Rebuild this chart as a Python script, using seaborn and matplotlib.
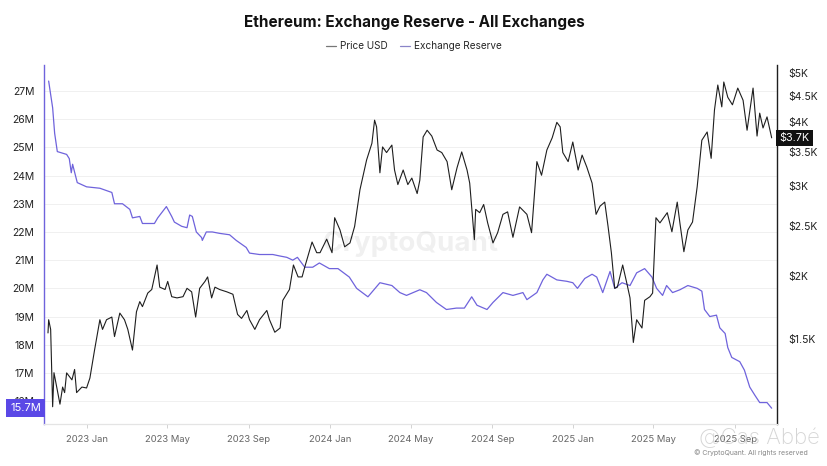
import pandas as pd
import numpy as np
import matplotlib
matplotlib.use("Agg")
import matplotlib.pyplot as plt
import matplotlib.dates as mdates
import matplotlib.ticker as mticker
import seaborn as sns

sns.set_theme(style="white")
plt.rcParams["font.family"] = ["Inter", "DejaVu Sans"]

# Exchange reserve (ETH, millions)
reserve_dates = [
    "2022-11-04", "2022-11-10", "2022-11-13", "2022-11-17", "2022-12-01", "2022-12-05",
    "2022-12-08", "2022-12-10", "2022-12-17", "2022-12-31", "2023-01-20", "2023-02-07",
    "2023-02-11", "2023-02-23", "2023-03-06", "2023-03-10", "2023-03-21", "2023-03-25",
    "2023-04-12", "2023-04-17", "2023-04-30", "2023-05-08", "2023-05-12", "2023-05-23",
    "2023-05-31", "2023-06-04", "2023-06-08", "2023-06-14", "2023-06-22", "2023-06-23",
    "2023-06-29", "2023-07-08", "2023-07-19", "2023-08-03", "2023-08-13", "2023-08-28",
    "2023-09-02", "2023-09-17", "2023-10-07", "2023-10-17", "2023-10-28", "2023-11-06",
    "2023-11-13", "2023-11-24", "2023-12-06", "2023-12-16", "2023-12-31", "2024-01-13",
    "2024-01-30", "2024-02-10", "2024-02-27", "2024-03-16", "2024-04-03", "2024-04-15",
    "2024-04-25", "2024-05-15", "2024-05-25", "2024-06-09", "2024-06-24", "2024-07-09",
    "2024-07-21", "2024-08-01", "2024-08-09", "2024-08-24", "2024-09-02", "2024-09-17",
    "2024-10-02", "2024-10-17", "2024-10-23", "2024-11-07", "2024-11-16", "2024-11-22",
    "2024-12-07", "2024-12-22", "2024-12-31", "2025-01-07", "2025-01-18", "2025-01-29",
    "2025-02-05", "2025-02-14", "2025-02-25", "2025-03-04", "2025-03-15", "2025-03-27",
    "2025-04-06", "2025-04-18", "2025-04-29", "2025-05-06", "2025-05-15", "2025-05-21",
    "2025-05-30", "2025-06-10", "2025-06-22", "2025-07-06", "2025-07-13", "2025-07-17",
    "2025-07-25", "2025-08-04", "2025-08-09", "2025-08-17", "2025-08-21", "2025-08-27",
    "2025-09-08", "2025-09-15", "2025-09-23", "2025-10-01", "2025-10-08", "2025-10-19",
    "2025-10-26",
]
reserve_m = [
    27.35, 26.4, 25.5, 24.85, 24.75, 24.6,
    24.1, 24.4, 23.75, 23.6, 23.55, 23.4,
    23.0, 23.0, 22.8, 22.5, 22.55, 22.3,
    22.3, 22.5, 22.9, 22.55, 22.35, 22.2,
    22.15, 22.6, 22.55, 22.0, 21.8, 21.7,
    22.0, 22.0, 21.95, 21.9, 21.7, 21.45,
    21.25, 21.2, 21.2, 21.15, 21.1, 21.0,
    21.1, 20.75, 20.75, 20.9, 20.7, 20.7,
    20.4, 20.0, 19.7, 20.2, 20.1, 19.85,
    19.75, 19.95, 19.85, 19.5, 19.25, 19.3,
    19.3, 19.7, 19.4, 19.25, 19.5, 19.85,
    19.75, 19.85, 19.6, 19.85, 20.3, 20.5,
    20.3, 20.25, 20.2, 20.0, 20.35, 20.5,
    20.4, 19.85, 20.6, 20.0, 20.2, 20.1,
    20.55, 20.7, 20.4, 20.0, 19.75, 20.1,
    19.85, 19.95, 20.1, 20.0, 19.9, 19.25,
    19.0, 19.05, 18.6, 18.4, 17.9, 17.55,
    17.4, 17.1, 16.5, 16.2, 15.95, 15.95,
    15.75,
]

# ETH price (USD)
price_dates = [
    "2022-11-03", "2022-11-04", "2022-11-07", "2022-11-10", "2022-11-12", "2022-11-16",
    "2022-11-21", "2022-11-25", "2022-11-28", "2022-12-01", "2022-12-09", "2022-12-13",
    "2022-12-16", "2022-12-24", "2022-12-31", "2023-01-05", "2023-01-12", "2023-01-20",
    "2023-01-24", "2023-01-30", "2023-02-07", "2023-02-11", "2023-02-19", "2023-02-26",
    "2023-03-03", "2023-03-10", "2023-03-16", "2023-03-21", "2023-03-25", "2023-04-02",
    "2023-04-08", "2023-04-16", "2023-04-20", "2023-04-28", "2023-05-02", "2023-05-08",
    "2023-05-16", "2023-05-25", "2023-05-31", "2023-06-07", "2023-06-13", "2023-06-19",
    "2023-06-27", "2023-07-01", "2023-07-07", "2023-07-12", "2023-07-19", "2023-07-30",
    "2023-08-08", "2023-08-15", "2023-08-21", "2023-08-29", "2023-09-02", "2023-09-10",
    "2023-09-17", "2023-09-28", "2023-10-02", "2023-10-10", "2023-10-18", "2023-10-22",
    "2023-11-01", "2023-11-07", "2023-11-14", "2023-11-20", "2023-11-24", "2023-12-05",
    "2023-12-12", "2023-12-17", "2023-12-27", "2024-01-04", "2024-01-08", "2024-01-16",
    "2024-01-23", "2024-01-31", "2024-02-07", "2024-02-15", "2024-02-25", "2024-03-04",
    "2024-03-08", "2024-03-11", "2024-03-16", "2024-03-20", "2024-03-26", "2024-04-03",
    "2024-04-07", "2024-04-12", "2024-04-20", "2024-04-27", "2024-05-03", "2024-05-11",
    "2024-05-15", "2024-05-20", "2024-05-26", "2024-06-02", "2024-06-10", "2024-06-17",
    "2024-06-25", "2024-07-02", "2024-07-10", "2024-07-17", "2024-07-25", "2024-07-29",
    "2024-08-05", "2024-08-07", "2024-08-13", "2024-08-19", "2024-08-25", "2024-09-02",
    "2024-09-09", "2024-09-17", "2024-09-24", "2024-10-02", "2024-10-12", "2024-10-23",
    "2024-10-30", "2024-11-07", "2024-11-14", "2024-11-22", "2024-11-30", "2024-12-07",
    "2024-12-12", "2024-12-16", "2024-12-24", "2024-12-31", "2025-01-08", "2025-01-14",
    "2025-01-21", "2025-01-29", "2025-02-04", "2025-02-10", "2025-02-17", "2025-02-22",
    "2025-02-27", "2025-03-04", "2025-03-08", "2025-03-16", "2025-03-22", "2025-03-27",
    "2025-04-01", "2025-04-06", "2025-04-14", "2025-04-18", "2025-04-26", "2025-04-30",
    "2025-05-05", "2025-05-11", "2025-05-22", "2025-05-29", "2025-06-06", "2025-06-10",
    "2025-06-16", "2025-06-22", "2025-06-29", "2025-07-06", "2025-07-13", "2025-07-21",
    "2025-07-27", "2025-08-01", "2025-08-06", "2025-08-12", "2025-08-15", "2025-08-21",
    "2025-08-28", "2025-09-05", "2025-09-13", "2025-09-19", "2025-09-28", "2025-10-04",
    "2025-10-08", "2025-10-13", "2025-10-19", "2025-10-26",
]
price_usd = [
    1545, 1640, 1570, 1107, 1291, 1211,
    1120, 1210, 1180, 1290, 1250, 1310,
    1180, 1210, 1205, 1260, 1430, 1640,
    1570, 1640, 1660, 1520, 1690, 1640,
    1570, 1430, 1700, 1780, 1740, 1850,
    1880, 2100, 1900, 1880, 1950, 1820,
    1810, 1820, 1890, 1860, 1660, 1890,
    1950, 1990, 1810, 1900, 1880, 1860,
    1840, 1680, 1650, 1710, 1640, 1570,
    1640, 1710, 1640, 1550, 1580, 1790,
    1880, 2100, 1990, 1990, 2080, 2330,
    2220, 2220, 2360, 2220, 2600, 2460,
    2280, 2320, 2500, 2950, 3375, 3640,
    4040, 3920, 3185, 3580, 3490, 3610,
    3225, 3020, 3225, 3020, 3110, 2900,
    3080, 3745, 3860, 3760, 3530, 3490,
    3350, 2950, 3260, 3500, 3225, 3040,
    2355, 2700, 2660, 2760, 2540, 2320,
    2430, 2640, 2670, 2380, 2730, 2640,
    2430, 3350, 3150, 3530, 3730, 4000,
    3920, 3490, 3350, 3660, 3225, 3450,
    3270, 3040, 2640, 2740, 2790, 2500,
    2220, 1890, 1900, 2100, 1940, 1810,
    1480, 1640, 1580, 1790, 1820, 1850,
    2600, 2540, 2660, 2440, 2790, 2540,
    2230, 2460, 2550, 2990, 3690, 3830,
    3400, 4230, 4735, 4290, 4800, 4480,
    4330, 4670, 4420, 3860, 4670, 3760,
    4170, 3900, 4100, 3730,
]

reserve_ticks = [16, 17, 18, 19, 20, 21, 22, 23, 24, 25, 26, 27]
price_ticks = [1500, 2000, 2500, 3000, 3500, 4000, 4500, 5000]
price_labels = ["$1.5K", "$2K", "$2.5K", "$3K", "$3.5K", "$4K", "$4.5K", "$5K"]

df_res = pd.DataFrame({"date": pd.to_datetime(reserve_dates), "reserve": reserve_m})
df_px = pd.DataFrame({"date": pd.to_datetime(price_dates), "price": price_usd})

purple = "#6f63dc"
black = "#1e1e1e"

fig = plt.figure(figsize=(8.28, 4.66), dpi=100)
ax = fig.add_axes([44 / 828, 1 - 424 / 466, (777 - 44) / 828, (424 - 65) / 466])
ax2 = ax.twinx()

sns.lineplot(data=df_res, x="date", y="reserve", ax=ax, color=purple, linewidth=0.9)
sns.lineplot(data=df_px, x="date", y="price", ax=ax2, color=black, linewidth=0.8)

# left axis (reserve)
ax.set_ylim(15.19, 27.92)
ax.set_yticks(reserve_ticks)
ax.set_yticklabels([f"{t}M" for t in reserve_ticks])
ax.tick_params(axis="y", length=0, pad=7, labelsize=7.5, labelcolor="#222222")
ax.grid(axis="y", color="#f0f0f0", linewidth=0.7)
ax.set_ylabel("")
ax.set_xlabel("")

# right axis (price, log)
ax2.set_yscale("log")
ax2.set_ylim(1024, 5183)
ax2.yaxis.set_major_locator(mticker.FixedLocator(price_ticks))
ax2.yaxis.set_major_formatter(mticker.FixedFormatter(price_labels))
ax2.yaxis.set_minor_locator(mticker.NullLocator())
ax2.tick_params(axis="y", length=0, pad=8, labelsize=7.5, labelcolor="#222222")
ax2.set_ylabel("")

# x axis
ax.set_xlim(pd.Timestamp("2022-10-28"), pd.Timestamp("2025-11-03"))
ax.xaxis.set_major_locator(mdates.MonthLocator(bymonth=[1, 5, 9]))
ax.xaxis.set_major_formatter(mdates.DateFormatter("%Y %b"))
ax.tick_params(axis="x", length=3, width=0.6, color="#cccccc", pad=5,
               labelsize=6.8, labelcolor="#666666", bottom=True)

for a in (ax, ax2):
    a.spines["top"].set_visible(False)
    a.spines["bottom"].set_color("#e4e4e4")
    a.spines["bottom"].set_linewidth(0.8)
    a.spines["left"].set_visible(False)
    a.spines["right"].set_visible(False)
ax.spines["left"].set_visible(True)
ax.spines["left"].set_color(purple)
ax.spines["left"].set_linewidth(1.0)
ax2.spines["right"].set_visible(True)
ax2.spines["right"].set_color(black)
ax2.spines["right"].set_linewidth(1.0)

# current value tags (drawn on top of the tick labels, as in the source)
tag_y = ax.transData.transform((0, 15.75))[1]
fig.text(41 / 828, tag_y / fig.dpi / fig.get_figheight(), "15.7M", ha="right", va="center",
         fontsize=8, color="white", zorder=10,
         bbox=dict(boxstyle="square,pad=0.35", fc="#5a48e6", ec="none"))
ax2.text(1.003, 3730, "$3.7K", transform=ax2.get_yaxis_transform(), ha="left", va="center",
         fontsize=7.8, color="white",
         bbox=dict(boxstyle="square,pad=0.3", fc="#111111", ec="none"))

# title and legend
fig.text(0.5, 1 - 22 / 466, "Ethereum: Exchange Reserve - All Exchanges", ha="center", va="center",
         fontsize=11, fontweight="bold", color="#111111")
handles = [plt.Line2D([], [], color="#777777", linewidth=0.9),
           plt.Line2D([], [], color="#8a84c8", linewidth=0.9)]
fig.legend(handles, ["Price USD", "Exchange Reserve"], loc="center", ncol=2,
           bbox_to_anchor=(0.5, 1 - 46 / 466), frameon=False, fontsize=7.2,
           handlelength=1.0, handletextpad=0.4, columnspacing=1.2)

# watermarks
ax.text(0.5, 0.5, "CryptoQuant", transform=ax.transAxes, ha="center", va="center",
        fontsize=20, color="#000000", alpha=0.06, fontweight="bold")
fig.text(0.99, 1 - 438 / 466, "@Cas Abbé", ha="right", va="center", fontsize=16,
         color="#c4c4c4", alpha=0.7, fontweight="light")
fig.text(0.975, 1 - 453 / 466, "© CryptoQuant. All rights reserved", ha="right", va="center",
         fontsize=5, color="#888888")

plt.savefig("out.png", dpi=100)
